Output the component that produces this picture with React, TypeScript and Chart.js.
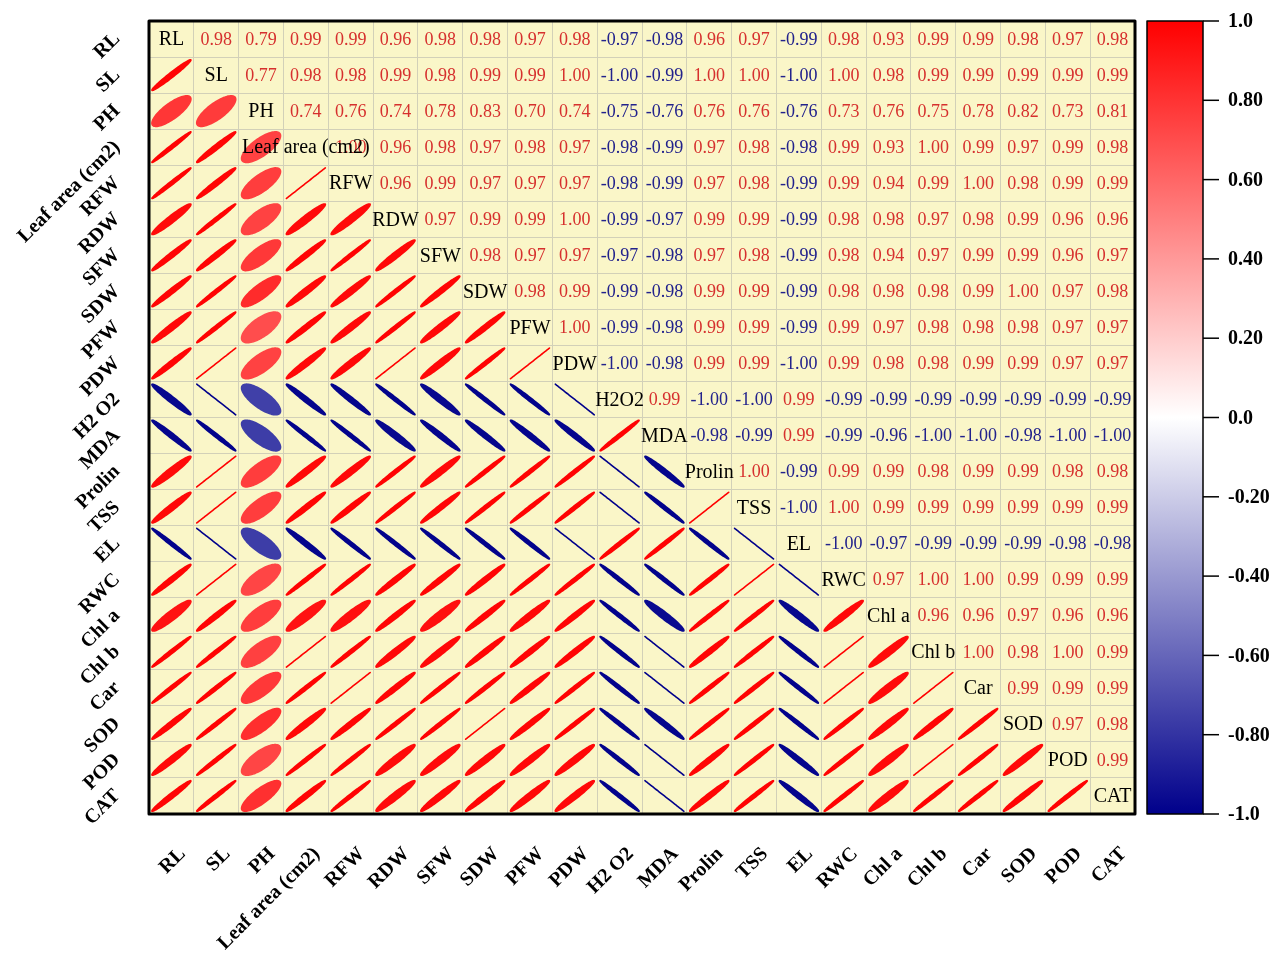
import React, { useEffect, useRef } from "react";
import { Chart, registerables } from "chart.js";

Chart.register(...registerables);

// Variable names as shown on the diagonal
const variables = [
  "RL", "SL", "PH", "Leaf area (cm2)", "RFW", "RDW", "SFW", "SDW", "PFW", "PDW",
  "H2O2", "MDA", "Prolin", "TSS", "EL", "RWC", "Chl a", "Chl b", "Car", "SOD", "POD", "CAT",
];

// Axis tick labels (left and bottom)
const axisLabels = [
  "RL", "SL", "PH", "Leaf area (cm2)", "RFW", "RDW", "SFW", "SDW", "PFW", "PDW",
  "H2 O2", "MDA", "Prolin", "TSS", "EL", "RWC", "Chl a", "Chl b", "Car", "SOD", "POD", "CAT",
];

// Upper-triangle correlation coefficients, one row per variable (columns to the right of the diagonal)
const rowRL = [0.98, 0.79, 0.99, 0.99, 0.96, 0.98, 0.98, 0.97, 0.98, -0.97, -0.98, 0.96, 0.97, -0.99, 0.98, 0.93, 0.99, 0.99, 0.98, 0.97, 0.98];
const rowSL = [0.77, 0.98, 0.98, 0.99, 0.98, 0.99, 0.99, 1.0, -1.0, -0.99, 1.0, 1.0, -1.0, 1.0, 0.98, 0.99, 0.99, 0.99, 0.99, 0.99];
const rowPH = [0.74, 0.76, 0.74, 0.78, 0.83, 0.7, 0.74, -0.75, -0.76, 0.76, 0.76, -0.76, 0.73, 0.76, 0.75, 0.78, 0.82, 0.73, 0.81];
const rowLeafArea = [1.0, 0.96, 0.98, 0.97, 0.98, 0.97, -0.98, -0.99, 0.97, 0.98, -0.98, 0.99, 0.93, 1.0, 0.99, 0.97, 0.99, 0.98];
const rowRFW = [0.96, 0.99, 0.97, 0.97, 0.97, -0.98, -0.99, 0.97, 0.98, -0.99, 0.99, 0.94, 0.99, 1.0, 0.98, 0.99, 0.99];
const rowRDW = [0.97, 0.99, 0.99, 1.0, -0.99, -0.97, 0.99, 0.99, -0.99, 0.98, 0.98, 0.97, 0.98, 0.99, 0.96, 0.96];
const rowSFW = [0.98, 0.97, 0.97, -0.97, -0.98, 0.97, 0.98, -0.99, 0.98, 0.94, 0.97, 0.99, 0.99, 0.96, 0.97];
const rowSDW = [0.98, 0.99, -0.99, -0.98, 0.99, 0.99, -0.99, 0.98, 0.98, 0.98, 0.99, 1.0, 0.97, 0.98];
const rowPFW = [1.0, -0.99, -0.98, 0.99, 0.99, -0.99, 0.99, 0.97, 0.98, 0.98, 0.98, 0.97, 0.97];
const rowPDW = [-1.0, -0.98, 0.99, 0.99, -1.0, 0.99, 0.98, 0.98, 0.99, 0.99, 0.97, 0.97];
const rowH2O2 = [0.99, -1.0, -1.0, 0.99, -0.99, -0.99, -0.99, -0.99, -0.99, -0.99, -0.99];
const rowMDA = [-0.98, -0.99, 0.99, -0.99, -0.96, -1.0, -1.0, -0.98, -1.0, -1.0];
const rowProlin = [1.0, -0.99, 0.99, 0.99, 0.98, 0.99, 0.99, 0.98, 0.98];
const rowTSS = [-1.0, 1.0, 0.99, 0.99, 0.99, 0.99, 0.99, 0.99];
const rowEL = [-1.0, -0.97, -0.99, -0.99, -0.99, -0.98, -0.98];
const rowRWC = [0.97, 1.0, 1.0, 0.99, 0.99, 0.99];
const rowChlA = [0.96, 0.96, 0.97, 0.96, 0.96];
const rowChlB = [1.0, 0.98, 1.0, 0.99];
const rowCar = [0.99, 0.99, 0.99];
const rowSOD = [0.97, 0.98];
const rowPOD = [0.99];
const rowCAT: number[] = [];

const upperRows = [
  rowRL, rowSL, rowPH, rowLeafArea, rowRFW, rowRDW, rowSFW, rowSDW, rowPFW, rowPDW,
  rowH2O2, rowMDA, rowProlin, rowTSS, rowEL, rowRWC, rowChlA, rowChlB, rowCar, rowSOD, rowPOD, rowCAT,
];

// Colour bar ticks
const colorbarTicks = [1.0, 0.8, 0.6, 0.4, 0.2, 0.0, -0.2, -0.4, -0.6, -0.8, -1.0];
const colorbarTickLabels = ["1.0", "0.80", "0.60", "0.40", "0.20", "0.0", "-0.20", "-0.40", "-0.60", "-0.80", "-1.0"];

const SERIF = "'Liberation Serif', 'Times New Roman', serif";
const CELL_BG = "#faf6c8";
const GRID_COLOR = "#d2d0b8";
const NAVY = [0, 0, 139];

function corr(i: number, j: number): number {
  if (i === j) return 1;
  const a = Math.min(i, j);
  const b = Math.max(i, j);
  return upperRows[a][b - a - 1];
}

function corrColor(r: number): string {
  if (r >= 0) {
    const c = Math.round(255 * (1 - r));
    return `rgb(255, ${c}, ${c})`;
  }
  const t = -r;
  const rr = Math.round(255 + (NAVY[0] - 255) * t);
  const gg = Math.round(255 + (NAVY[1] - 255) * t);
  const bb = Math.round(255 + (NAVY[2] - 255) * t);
  return `rgb(${rr}, ${gg}, ${bb})`;
}

// Lower triangle: ellipses; upper triangle: coefficients; diagonal: names
const lowerCells: { x: string; y: string; r: number }[] = [];
const upperCells: { x: string; y: string; r: number }[] = [];
const diagCells: { x: string; y: string; name: string }[] = [];
for (let i = 0; i < variables.length; i++) {
  for (let j = 0; j < variables.length; j++) {
    if (i > j) lowerCells.push({ x: variables[j], y: variables[i], r: corr(i, j) });
    else if (i < j) upperCells.push({ x: variables[j], y: variables[i], r: corr(i, j) });
    else diagCells.push({ x: variables[j], y: variables[i], name: variables[i] });
  }
}

function drawEllipse(ctx: CanvasRenderingContext2D, cx: number, cy: number, w: number, h: number, r: number) {
  const d = Math.acos(Math.max(-1, Math.min(1, r)));
  const sx = (w / 2) * 0.87;
  const sy = (h / 2) * 0.85;
  const color = corrColor(r);
  ctx.beginPath();
  const n = 90;
  for (let k = 0; k <= n; k++) {
    const t = (k / n) * Math.PI * 2;
    const px = cx + Math.cos(t + d / 2) * sx;
    const py = cy - Math.cos(t - d / 2) * sy;
    if (k === 0) ctx.moveTo(px, py);
    else ctx.lineTo(px, py);
  }
  ctx.closePath();
  ctx.fillStyle = color;
  ctx.fill();
  ctx.strokeStyle = color;
  ctx.lineWidth = 1.6;
  ctx.lineJoin = "round";
  ctx.stroke();
}

const corrMatrixPlugin = {
  id: "corrMatrix",
  beforeDraw(chart: any) {
    const { ctx, chartArea: a } = chart;
    ctx.save();
    ctx.fillStyle = CELL_BG;
    ctx.fillRect(a.left, a.top, a.right - a.left, a.bottom - a.top);
    ctx.restore();
  },
  afterDatasetsDraw(chart: any) {
    const { ctx, chartArea: a } = chart;
    const xs = chart.scales.x;
    const ys = chart.scales.y;
    const cb = chart.scales.cb;
    const n = variables.length;
    const cw = (a.right - a.left) / n;
    const ch = (a.bottom - a.top) / n;

    ctx.save();

    // ellipses
    const lowerMeta = chart.getDatasetMeta(0);
    lowerMeta.data.forEach((pt: any, k: number) => {
      drawEllipse(ctx, pt.x, pt.y, cw, ch, lowerCells[k].r);
    });

    // coefficients
    ctx.textAlign = "center";
    ctx.textBaseline = "middle";
    ctx.font = `18px ${SERIF}`;
    const upperMeta = chart.getDatasetMeta(1);
    upperMeta.data.forEach((pt: any, k: number) => {
      const r = upperCells[k].r;
      ctx.fillStyle = r >= 0 ? "#d6302e" : "#22228c";
      ctx.fillText(r.toFixed(2), pt.x, pt.y + 1);
    });

    // diagonal names
    ctx.font = `20px ${SERIF}`;
    ctx.fillStyle = "#000";
    const diagMeta = chart.getDatasetMeta(2);
    diagMeta.data.forEach((pt: any, k: number) => {
      ctx.fillText(diagCells[k].name, pt.x, pt.y + 1);
    });

    // frame
    ctx.strokeStyle = "#000";
    ctx.lineWidth = 3;
    ctx.strokeRect(a.left, a.top, a.right - a.left, a.bottom - a.top);

    // axis labels, rotated 45 degrees
    ctx.font = `bold 20px ${SERIF}`;
    ctx.fillStyle = "#000";
    ctx.textAlign = "right";
    ctx.textBaseline = "middle";
    axisLabels.forEach((lab, i) => {
      const cx = xs.getPixelForValue(i);
      ctx.save();
      ctx.translate(cx + 11, a.bottom + 37);
      ctx.rotate(-Math.PI / 4);
      ctx.fillText(lab, 0, 0);
      ctx.restore();

      const cy = ys.getPixelForValue(i);
      ctx.save();
      ctx.translate(a.left - 32, cy - 3);
      ctx.rotate(-Math.PI / 4);
      ctx.fillText(lab, 0, 0);
      ctx.restore();
    });

    // colour bar
    const barL = a.right + 12;
    const barR = a.right + 68;
    const barT = cb.getPixelForValue(1);
    const barB = cb.getPixelForValue(-1);
    const grad = ctx.createLinearGradient(0, barT, 0, barB);
    grad.addColorStop(0, corrColor(1));
    grad.addColorStop(0.5, corrColor(0));
    grad.addColorStop(1, corrColor(-1));
    ctx.fillStyle = grad;
    ctx.fillRect(barL, barT, barR - barL, barB - barT);
    ctx.strokeStyle = "#000";
    ctx.lineWidth = 1.5;
    ctx.strokeRect(barL, barT, barR - barL, barB - barT);

    ctx.font = `bold 20px ${SERIF}`;
    ctx.textAlign = "left";
    ctx.textBaseline = "middle";
    ctx.fillStyle = "#000";
    colorbarTicks.forEach((v, k) => {
      const y = cb.getPixelForValue(v);
      ctx.beginPath();
      ctx.moveTo(barR, y);
      ctx.lineTo(barR + 16, y);
      ctx.stroke();
      ctx.fillText(colorbarTickLabels[k], barR + 25, y + 1);
    });

    ctx.restore();
  },
};

export default function App() {
  const canvasRef = useRef<HTMLCanvasElement | null>(null);

  useEffect(() => {
    document.body.style.margin = "0";
    const canvas = canvasRef.current;
    if (!canvas) return;

    const gridOpts = { offset: true, color: GRID_COLOR, lineWidth: 1, drawTicks: false };

    const chart = new Chart(canvas, {
      type: "scatter",
      data: {
        datasets: [
          { label: "ellipses", data: lowerCells as any, xAxisID: "x", yAxisID: "y", pointRadius: 0 },
          { label: "coefficients", data: upperCells as any, xAxisID: "x", yAxisID: "y", pointRadius: 0 },
          { label: "names", data: diagCells as any, xAxisID: "x", yAxisID: "y", pointRadius: 0 },
        ],
      },
      options: {
        responsive: false,
        animation: false,
        events: [],
        layout: { padding: { top: 21, left: 0, right: 0, bottom: 0 } },
        plugins: { legend: { display: false }, tooltip: { enabled: false } },
        elements: { point: { radius: 0, hoverRadius: 0 } },
        scales: {
          x: {
            type: "category",
            labels: variables,
            offset: true,
            grid: gridOpts,
            border: { display: false },
            ticks: { display: false },
            afterFit: (s: any) => {
              s.height = 140;
            },
          },
          y: {
            type: "category",
            labels: variables,
            offset: true,
            grid: gridOpts,
            border: { display: false },
            ticks: { display: false },
            afterFit: (s: any) => {
              s.width = 149;
            },
          },
          cb: {
            type: "linear",
            position: "right",
            min: -1,
            max: 1,
            grid: { display: false },
            border: { display: false },
            ticks: { display: false },
            afterFit: (s: any) => {
              s.width = 139;
            },
          },
        } as any,
      },
      plugins: [corrMatrixPlugin],
    });

    return () => chart.destroy();
  }, []);

  return (
    <div style={{ width: 1274, height: 954, background: "#fff" }}>
      <canvas ref={canvasRef} width={1274} height={954} style={{ display: "block" }} />
    </div>
  );
}
